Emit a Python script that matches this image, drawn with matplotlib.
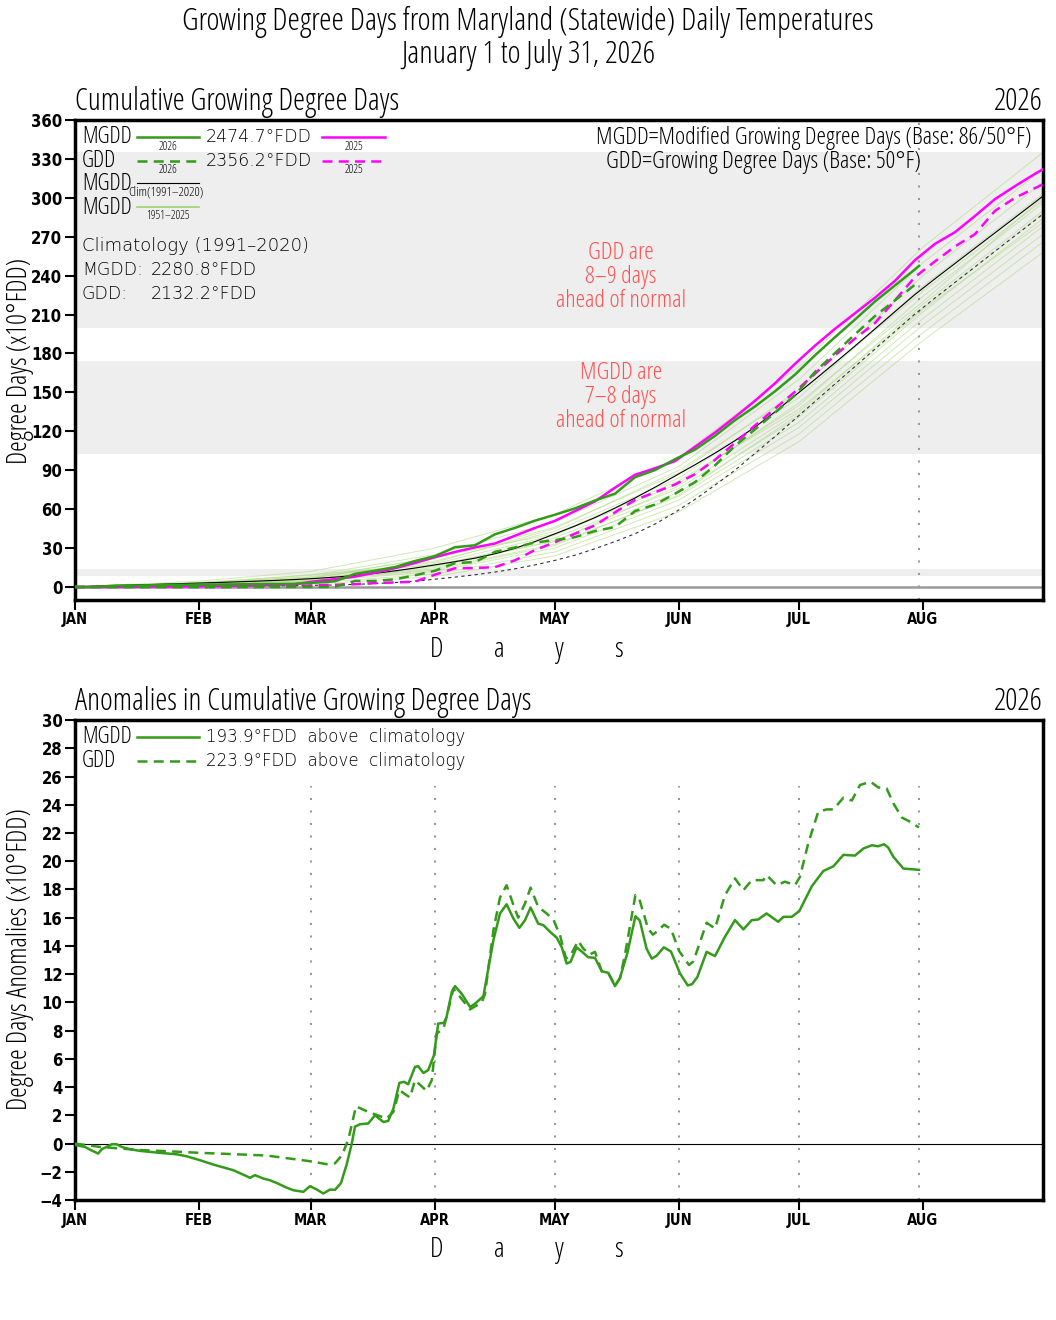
import matplotlib
matplotlib.use("Agg")
import matplotlib.pyplot as plt

# GrADS-like lettering: thin condensed face for labels, light wide face for values
plt.rcParams['font.family'] = ['Open Sans', 'DejaVu Sans']
plt.rcParams['font.stretch'] = 'condensed'
plt.rcParams['font.weight'] = 'light'
TICKFONT = dict(family=['DejaVu Sans'], fontstretch='condensed', fontweight='bold')
WIDE = dict(family=['DejaVu Sans'], fontstretch='normal', fontweight='light', color='black')

GREEN = '#339a1a'
MAGENTA = '#ff00ff'
HIST = '#b0dc86'
RED = '#ff5050'

# month ticks (days since Jan 1)
month_days = [0, 31, 59, 90, 120, 151, 181, 212]
month_labels = ['JAN', 'FEB', 'MAR', 'APR', 'MAY', 'JUN', 'JUL', 'AUG']

# climatology 1991-2020 (x10 degF-days), every 5 days to Aug 31
clim_days = list(range(0, 241, 5)) + [242]
clim_mgdd = [0.0, 0.6, 1.1, 1.55, 2.0, 2.45, 2.9, 3.4, 3.9, 4.45,
             5.05, 5.75, 6.55, 7.6, 8.9, 10.5, 12.4, 14.6, 17.0, 19.5,
             22.2, 25.6, 29.8, 35.0, 41.0, 47.0, 53.5, 60.8, 68.6, 76.9,
             85.5, 94.2, 103.2, 112.8, 123.3, 135.0, 147.5, 160.0, 172.8, 185.8,
             199.0, 212.3, 225.5, 237.6, 249.4, 261.2, 273.0, 284.8, 296.6, 301.4]
clim_gdd = [0.0, 0.2, 0.33, 0.44, 0.5, 0.57, 0.64, 0.7, 0.76, 0.82,
            0.93, 1.1, 1.3, 1.5, 2.0, 2.6, 3.4, 4.5, 6.0, 7.6,
            9.4, 11.5, 14.0, 17.0, 20.5, 24.5, 29.5, 35.0, 41.0, 48.5,
            57.5, 67.5, 78.5, 90.0, 103.0, 116.0, 129.5, 143.0, 156.5, 170.0,
            183.5, 197.0, 210.5, 222.8, 234.8, 246.8, 258.8, 270.8, 282.7, 287.5]

# 2025 season
mgdd_2025 = [0.0, 0.05, 0.1, 0.2, 0.3, 0.4, 0.55, 0.7, 0.9, 1.2,
             1.6, 2.2, 4.3, 6.0, 8.0, 11.0, 14.5, 18.5, 23.0, 27.0,
             30.5, 33.5, 39.5, 45.5, 51.0, 58.5, 66.0, 76.5, 86.5, 91.5,
             97.0, 108.0, 119.0, 131.0, 143.5, 157.0, 172.0, 186.0, 199.0, 211.0,
             223.0, 236.0, 252.0, 264.5, 273.5, 286.0, 299.0, 309.0, 318.5, 322.0]
gdd_2025 = [0.0, 0.0, 0.0, 0.0, 0.0, 0.0, 0.0, 0.0, 0.05, 0.1,
            0.2, 0.6, 1.2, 1.7, 2.1, 3.0, 3.5, 4.1, 9.5, 14.4,
            14.6, 15.3, 20.5, 28.5, 34.5, 41.0, 47.5, 57.5, 67.0, 73.0,
            79.0, 87.0, 98.0, 111.0, 124.5, 137.5, 150.5, 164.5, 178.5, 191.5,
            203.5, 221.0, 239.0, 251.0, 262.5, 272.0, 290.0, 300.0, 307.5, 310.5]

# 2026 season (to Jul 31)
days_2026 = list(range(0, 211, 5)) + [211]
mgdd_2026 = [0.0, 0.05, 1.05, 1.1, 1.38, 1.7, 1.82, 1.88, 1.98, 2.21,
             2.3, 2.42, 3.33, 4.35, 10.1, 12.5, 15.3, 20.0, 23.8, 30.65,
             32.1, 40.6, 45.55, 51.1, 55.7, 60.6, 66.65, 71.95, 84.6, 90.1,
             98.5, 105.9, 116.5, 128.6, 139.15, 150.85, 163.7, 178.6, 192.55, 206.2,
             220.1, 232.5, 244.9, 247.5]
gdd_2026 = [0.0, 0.0, 0.0, 0.0, 0.0, 0.0, 0.0, 0.0, 0.0, 0.0,
            0.0, 0.0, 0.0, 0.1, 4.6, 4.65, 5.9, 9.0, 12.5, 18.4,
            19.2, 27.1, 30.5, 34.3, 36.1, 38.4, 43.1, 46.2, 58.5, 63.5,
            71.9, 80.8, 93.7, 108.8, 121.5, 134.4, 147.8, 165.8, 180.3, 194.8,
            208.85, 221.0, 233.0, 235.6]

# a sample of the 1951-2025 MGDD seasons (monthly)
hist_days = [0, 31, 59, 90, 120, 151, 181, 212, 242]
hist_mgdd = [
    [0, 4.5, 12.0, 30.0, 56.0, 100.0, 170.0, 262.0, 335.0],
    [0, 3.5, 9.0, 25.0, 50.0, 93.0, 160.0, 250.0, 322.0],
    [0, 3.0, 8.0, 22.0, 46.0, 88.0, 152.0, 240.0, 312.0],
    [0, 2.5, 7.0, 20.0, 43.0, 84.0, 146.0, 232.0, 303.0],
    [0, 2.2, 6.0, 18.0, 40.0, 80.0, 140.0, 224.0, 296.0],
    [0, 2.0, 5.5, 16.0, 38.0, 76.0, 135.0, 218.0, 290.0],
    [0, 1.8, 5.0, 15.0, 36.0, 73.0, 131.0, 212.0, 284.0],
    [0, 1.5, 4.5, 14.0, 33.0, 70.0, 127.0, 207.0, 278.0],
    [0, 1.2, 4.0, 12.0, 30.0, 67.0, 123.0, 202.0, 272.0],
    [0, 1.0, 3.0, 10.0, 27.0, 63.0, 118.0, 196.0, 266.0],
    [0, 0.7, 2.0, 8.0, 24.0, 58.0, 112.0, 190.0, 258.0],
    [0, 2.8, 9.5, 17.0, 35.0, 78.0, 142.0, 220.0, 300.0],
    [0, 3.2, 7.5, 19.0, 45.0, 90.0, 150.0, 228.0, 298.0],
    [0, 1.6, 6.5, 23.0, 41.0, 82.0, 137.0, 215.0, 288.0],
    [0, 2.4, 5.0, 13.0, 32.0, 71.0, 133.0, 214.0, 281.0],
]

# anomalies (x10 degF-days)
anom_mgdd_days = [0, 2.5, 3.75, 5.8, 6.7, 7.9, 9.2, 10.4, 11.7, 13.75,
                  16.25, 21.25, 25.4, 27.9, 31.25, 34.6, 39.6, 42.9, 43.75, 45,
                  47.1, 48.75, 50.4, 52.9, 54.6, 57.1, 58.75, 60.4, 62.1, 63.75,
                  65, 66.5, 67.9, 69.2, 70, 71.25, 73.3, 75, 77.1, 78.3,
                  79.6, 81.1, 82.3, 83.3, 85, 85.8, 87.1, 88.3, 89.75, 90.8,
                  92.25, 92.9, 94.2, 95, 96.7, 98.75, 100, 102.1, 104.6, 106.25,
                  107.9, 109.6, 111.1, 112.5, 113.9, 115.8, 117.1, 118.75, 120.4, 121.7,
                  122.9, 123.9, 125.4, 126.7, 128.3, 130, 131.7, 133.3, 135, 136.25,
                  138.1, 140.1, 141.2, 142.9, 144.2, 145.4, 147.2, 149, 151.25, 153.2,
                  154.3, 155.6, 157.9, 160, 162.5, 165, 167.1, 169.2, 170.8, 172.9,
                  175.8, 177.1, 179.2, 181.1, 184.2, 187.1, 189.6, 192.1, 195, 197.1,
                  199.2, 200.8, 202.25, 203.3, 204.6, 207.1, 211]
anom_mgdd = [-0.1, -0.24, -0.43, -0.71, -0.4, -0.24, -0.05, -0.05, -0.24, -0.4,
             -0.52, -0.66, -0.76, -0.9, -1.18, -1.49, -1.89, -2.31, -2.43, -2.24,
             -2.48, -2.6, -2.79, -3.12, -3.31, -3.42, -3.02, -3.25, -3.54, -3.26,
             -3.28, -2.8, -1.5, 0.0, 1.2, 1.37, 1.42, 2.0, 1.53, 1.6,
             2.48, 4.3, 4.37, 4.2, 5.43, 5.48, 5.0, 5.2, 6.26, 8.5,
             8.55, 8.97, 10.74, 11.15, 10.6, 9.68, 9.9, 10.44, 14.4, 16.3,
             16.95, 15.94, 15.28, 15.82, 16.72, 15.58, 15.47, 15.0, 14.6, 13.9,
             12.75, 12.87, 13.9, 13.6, 13.2, 13.15, 12.2, 12.1, 11.15, 11.75,
             13.5, 16.1, 15.8, 13.8, 13.1, 13.3, 13.9, 13.6, 12.05, 11.2,
             11.3, 11.8, 13.58, 13.28, 14.65, 15.83, 15.17, 15.83, 15.87, 16.3,
             15.71, 16.06, 16.06, 16.48, 18.23, 19.31, 19.64, 20.45, 20.4, 20.9,
             21.13, 21.06, 21.2, 20.97, 20.31, 19.48, 19.39]
anom_gdd_days = [0, 6.25, 11.25, 16.25, 22.9, 31.25, 39.6, 47.9, 52, 58.75,
                 62.9, 65, 66.7, 68.3, 70.25, 73.3, 77.9, 79.6, 81.1, 83.75,
                 85, 87.9, 89.2, 90.4, 92.1, 92.9, 94.6, 98.75, 101.7, 102.5,
                 104.6, 106.25, 107.9, 109.6, 110.8, 112.5, 113.9, 115.8, 117.9, 119.6,
                 121.25, 122.75, 123.9, 125.8, 127.1, 128.75, 130, 131.7, 133.3, 135,
                 136.25, 137.5, 140.1, 141, 143.3, 144.5, 145.4, 147.3, 149, 151,
                 153.5, 154.6, 157.9, 160, 162.5, 165, 167.1, 169.2, 172.1, 172.9,
                 175.4, 177.5, 180, 181.25, 183.3, 185.8, 187.9, 189.6, 192.1, 194.2,
                 196.25, 198.9, 200.8, 202.9, 204.6, 206.7, 208.75, 211]
anom_gdd = [0.0, -0.24, -0.35, -0.46, -0.54, -0.66, -0.75, -0.85, -1.0, -1.25,
            -1.46, -1.4, -0.85, 0.24, 2.64, 2.24, 1.77, 2.24, 3.78, 3.26,
            4.49, 3.73, 4.49, 7.79, 8.15, 8.97, 10.98, 9.5, 10.0, 10.6,
            15.1, 17.43, 18.3, 16.9, 16.0, 17.0, 18.13, 16.77, 16.3, 15.87,
            14.76, 13.1, 13.34, 14.36, 13.8, 13.4, 13.58, 12.2, 12.1, 11.2,
            11.7, 13.4, 17.6, 17.4, 15.2, 14.8, 15.0, 15.5, 15.2, 13.65,
            12.65, 12.9, 15.64, 15.24, 17.6, 18.78, 17.95, 18.66, 18.66, 19.02,
            18.3, 18.55, 18.3, 18.9, 21.26, 23.5, 23.67, 23.67, 24.5, 24.3,
            25.4, 25.63, 25.23, 25.16, 24.1, 23.1, 22.8, 22.39]

last_day = 211
anom_vlines = [59, 90, 120, 151, 181, 211]
gray_bands = [(8.5, 13.9), (102.5, 174.2), (199.9, 335.6)]

fig = plt.figure(figsize=(10.56, 13.2), dpi=100)
ax1 = fig.add_axes([0.0710, 0.5455, 0.9167, 0.3636])
ax2 = fig.add_axes([0.0710, 0.0909, 0.9167, 0.3636])


def style_axis(ax):
    for s in ax.spines.values():
        s.set_linewidth(2.5)
    ax.set_xlim(0, 242)
    ax.set_xticks(month_days)
    ax.set_xticklabels(month_labels, fontsize=10.5, **TICKFONT)
    ax.tick_params(direction='out', length=7, width=1.5, pad=2)
    for t in ax.get_yticklabels():
        t.set_fontsize(12)
        t.set_family(['DejaVu Sans'])
        t.set_fontstretch('condensed')
        t.set_fontweight('bold')


# ---------------- top panel ----------------
for lo, hi in gray_bands:
    ax1.axhspan(lo, hi, color='#eeeeee', zorder=0, lw=0)
ax1.axhline(0, color='#999999', lw=1.8, zorder=1)
for h in hist_mgdd:
    ax1.plot(hist_days, h, color=HIST, lw=0.7, alpha=0.6, zorder=2)
ax1.plot(clim_days, clim_mgdd, color='black', lw=0.8, zorder=3)
ax1.plot(clim_days, clim_gdd, color='#333333', lw=0.8, dashes=(3, 3), zorder=3)
ax1.plot(clim_days, mgdd_2025, color=MAGENTA, lw=1.8, zorder=4)
ax1.plot(clim_days, gdd_2025, color=MAGENTA, lw=1.8, dashes=(4, 2.5), zorder=4)
ax1.plot(days_2026, mgdd_2026, color=GREEN, lw=1.8, zorder=5)
ax1.plot(days_2026, gdd_2026, color=GREEN, lw=1.8, dashes=(4, 2.5), zorder=5)
ax1.axvline(last_day, color='#999999', lw=1.5, ls=(0, (1, 5)), zorder=2)
ax1.set_ylim(-10, 360)
ax1.set_yticks(range(0, 361, 30))
style_axis(ax1)

ax1.text(0, 1.004, 'Cumulative Growing Degree Days', transform=ax1.transAxes,
         ha='left', va='bottom', fontsize=22)
ax1.text(1, 1.004, '2026', transform=ax1.transAxes, ha='right', va='bottom', fontsize=22)

T = ax1.transAxes
ax1.text(0.007, 0.9646, 'MGDD', transform=T, va='center', fontsize=16.5)
ax1.plot([0.064, 0.128], [0.9646, 0.9646], transform=T, color=GREEN, lw=1.8)
ax1.text(0.096, 0.9458, '2026', transform=T, ha='center', va='center', fontsize=8.5, fontweight='normal')
ax1.text(0.1353, 0.9646, '2474.7°FDD', transform=T, va='center', fontsize=12.5, **WIDE)
ax1.plot([0.2552, 0.3202], [0.9646, 0.9646], transform=T, color=MAGENTA, lw=1.8)
ax1.text(0.2882, 0.9458, '2025', transform=T, ha='center', va='center', fontsize=8.5, fontweight='normal')

ax1.text(0.007, 0.9146, 'GDD', transform=T, va='center', fontsize=16.5)
ax1.plot([0.064, 0.128], [0.9146, 0.9146], transform=T, color=GREEN, lw=1.8, dashes=(4, 2.5))
ax1.text(0.096, 0.8958, '2026', transform=T, ha='center', va='center', fontsize=8.5, fontweight='normal')
ax1.text(0.1353, 0.9146, '2356.2°FDD', transform=T, va='center', fontsize=12.5, **WIDE)
ax1.plot([0.2552, 0.3202], [0.9146, 0.9146], transform=T, color=MAGENTA, lw=1.8, dashes=(4, 2.5))
ax1.text(0.2882, 0.8958, '2025', transform=T, ha='center', va='center', fontsize=8.5, fontweight='normal')

ax1.text(0.007, 0.8667, 'MGDD', transform=T, va='center', fontsize=16.5)
ax1.plot([0.064, 0.128], [0.8690, 0.8690], transform=T, color='black', lw=0.8)
ax1.text(0.0555, 0.8507, 'Clim(1991–2020)', transform=T, va='center', fontsize=9.5, fontweight='normal')
ax1.text(0.007, 0.8167, 'MGDD', transform=T, va='center', fontsize=16.5)
ax1.plot([0.064, 0.128], [0.8187, 0.8187], transform=T, color='#9fd070', lw=1.2)
ax1.text(0.096, 0.8000, '1951–2025', transform=T, ha='center', va='center', fontsize=8.5, fontweight='normal')

ax1.text(0.007, 0.7375, 'Climatology (1991–2020)', transform=T, va='center', fontsize=13, **WIDE)
ax1.text(0.007, 0.6875, 'MGDD:', transform=T, va='center', fontsize=12.5, **WIDE)
ax1.text(0.0785, 0.6875, '2280.8°FDD', transform=T, va='center', fontsize=12.5, **WIDE)
ax1.text(0.007, 0.6375, 'GDD:', transform=T, va='center', fontsize=12.5, **WIDE)
ax1.text(0.0785, 0.6375, '2132.2°FDD', transform=T, va='center', fontsize=12.5, **WIDE)

ax1.text(0.9886, 0.9625, 'MGDD=Modified Growing Degree Days (Base: 86/50°F)',
         transform=T, ha='right', va='center', fontsize=17.5)
ax1.text(0.5486, 0.9125, 'GDD=Growing Degree Days (Base: 50°F)',
         transform=T, ha='left', va='center', fontsize=17.5)

for y, s in zip([0.7229, 0.6729, 0.6229], ['GDD are', '8–9 days', 'ahead of normal']):
    ax1.text(0.564, y, s, transform=T, ha='center', va='center', fontsize=17.5, color=RED)
for y, s in zip([0.4729, 0.4229, 0.3729], ['MGDD are', '7–8 days', 'ahead of normal']):
    ax1.text(0.564, y, s, transform=T, ha='center', va='center', fontsize=17.5, color=RED)

# ---------------- bottom panel ----------------
ax2.axhline(0, color='black', lw=0.8, zorder=1)
ax2.vlines(anom_vlines, -4, 25.3, color='#999999', lw=1.5, linestyles=(0, (1, 5)), zorder=1)
ax2.plot(anom_mgdd_days, anom_mgdd, color=GREEN, lw=1.8, zorder=3)
ax2.plot(anom_gdd_days, anom_gdd, color=GREEN, lw=1.8, dashes=(4, 2.5), zorder=3)
ax2.set_ylim(-4, 30)
ax2.set_yticks(range(-4, 31, 2))
style_axis(ax2)

ax2.text(0, 1.004, 'Anomalies in Cumulative Growing Degree Days', transform=ax2.transAxes,
         ha='left', va='bottom', fontsize=22)
ax2.text(1, 1.004, '2026', transform=ax2.transAxes, ha='right', va='bottom', fontsize=22)
T2 = ax2.transAxes
ax2.text(0.007, 0.9646, 'MGDD', transform=T2, va='center', fontsize=16.5)
ax2.plot([0.064, 0.128], [0.9646, 0.9646], transform=T2, color=GREEN, lw=1.8)
ax2.text(0.1353, 0.9646, '193.9°FDD  above  climatology', transform=T2, va='center',
         fontsize=12, **WIDE)
ax2.text(0.007, 0.9146, 'GDD', transform=T2, va='center', fontsize=16.5)
ax2.plot([0.064, 0.128], [0.9146, 0.9146], transform=T2, color=GREEN, lw=1.8, dashes=(4, 2.5))
ax2.text(0.1353, 0.9146, '223.9°FDD  above  climatology', transform=T2, va='center',
         fontsize=12, **WIDE)

# ---------------- figure texts ----------------
fig.text(0.5, 0.9833, 'Growing Degree Days from Maryland (Statewide) Daily Temperatures',
         ha='center', va='center', fontsize=22.5)
fig.text(0.5, 0.9583, 'January 1 to July 31, 2026', ha='center', va='center', fontsize=22.5)
fig.text(0.019, 0.7265, 'Degree Days (x10°FDD)', rotation=90, ha='center', va='center', fontsize=19.5)
fig.text(0.019, 0.2735, 'Degree Days Anomalies (x10°FDD)', rotation=90, ha='center', va='center',
         fontsize=19.5)
for yy in [0.5076, 0.0530]:
    for xx, ch in zip([0.4138, 0.4725, 0.5294, 0.5862], 'Days'):
        fig.text(xx, yy, ch, ha='center', va='center', fontsize=20)

fig.savefig('out.png', dpi=100)
